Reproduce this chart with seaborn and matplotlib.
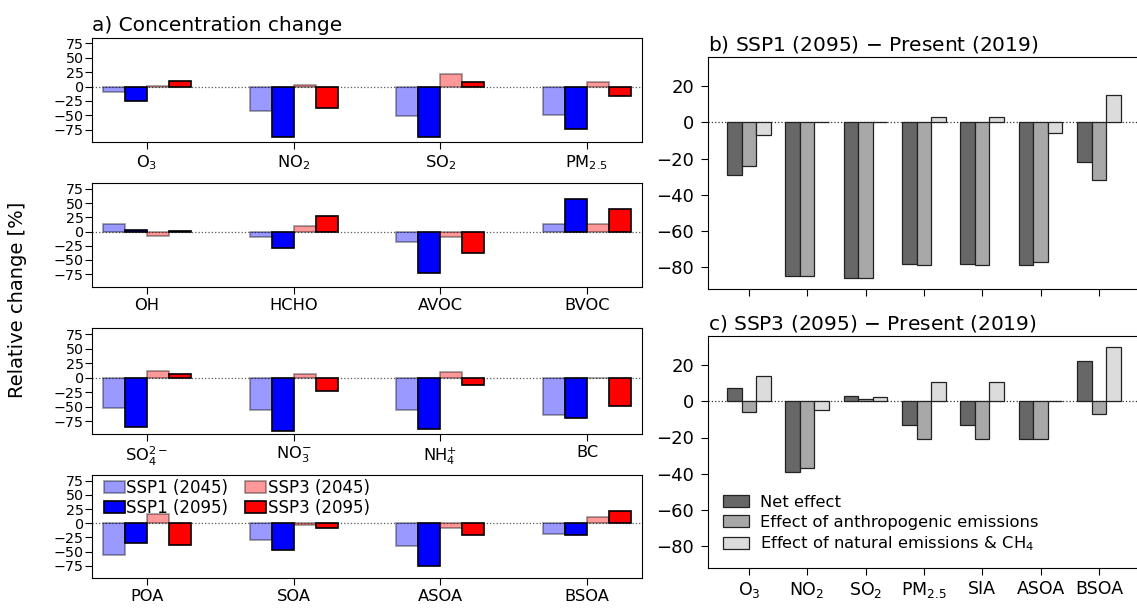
import numpy as np
import pandas as pd
import matplotlib
matplotlib.use("Agg")
import matplotlib.pyplot as plt
from matplotlib.patches import Patch
import seaborn as sns

plt.rcParams['font.family'] = ['DejaVu Sans']
plt.rcParams['mathtext.default'] = 'regular'

# ---------------- panel a: relative concentration change [%] ----------------
scenarios = ['SSP1 (2045)', 'SSP1 (2095)', 'SSP3 (2045)', 'SSP3 (2095)']
species = ['O$_3$', 'NO$_2$', 'SO$_2$', 'PM$_{2.5}$',
           'OH', 'HCHO', 'AVOC', 'BVOC',
           'SO$_4^{2-}$', 'NO$_3^{-}$', 'NH$_4^{+}$', 'BC',
           'POA', 'SOA', 'ASOA', 'BSOA']
ssp1_2045 = [-9, -42, -52, -49,
             13, -10, -19, 13,
             -52, -55, -55, -64.5,
             -56, -29, -40, -19]
ssp1_2095 = [-26, -87, -88, -73,
             2, -28.5, -73, 57.5,
             -85, -92, -89, -70,
             -35.5, -48, -76, -20]
ssp3_2045 = [1, 3, 21, 7.5,
             -7.5, 9, -9, 13,
             12, 7, 9.5, -1,
             16, -3, -9, 11]
ssp3_2095 = [10, -38, 7.5, -17,
             1, 27, -38, 39,
             7, -23.5, -12, -49,
             -38, -7.5, -21.5, 21.5]

# ---------------- panels b, c: attribution of 2095 changes [%] ----------------
effects = ['Net effect', 'Effect of anthropogenic emissions',
           'Effect of natural emissions & CH$_4$']
effect_species = ['O$_3$', 'NO$_2$', 'SO$_2$', 'PM$_{2.5}$', 'SIA', 'ASOA', 'BSOA']
ssp1_net = [-29, -85, -86, -78, -78, -79, -22]
ssp1_anthro = [-24, -85, -86, -79, -79, -77, -32]
ssp1_natural = [-7, 0, 0, 3, 3, -6, 15]
ssp3_net = [7.5, -39, 3, -13, -13, -21, 22]
ssp3_anthro = [-6, -37, 1, -21, -21, -21, -7]
ssp3_natural = [14, -5, 2.5, 10.5, 10.5, 0, 30]

W, H = 1137, 609
fig = plt.figure(figsize=(W / 100, H / 100), dpi=100)


def px_axes(left, top, right, bottom):
    return fig.add_axes([left / W, 1 - bottom / H, (right - left) / W, (bottom - top) / H])


scen_colors = {'SSP1 (2045)': 'blue', 'SSP1 (2095)': 'blue',
               'SSP3 (2045)': 'red', 'SSP3 (2095)': 'red'}
scen_alpha = [0.4, 1.0, 0.4, 1.0]
scen_series = [ssp1_2045, ssp1_2095, ssp3_2045, ssp3_2095]

rows_px = [(37.7, 142.3), (183.3, 286.7), (328.3, 434.0), (475.0, 578.3)]
conc_axes = []
for k, (top, bottom) in enumerate(rows_px):
    ax = px_axes(92, top, 642, bottom)
    sl = slice(4 * k, 4 * k + 4)
    names = species[sl]
    df = pd.DataFrame({
        'species': np.tile(names, len(scenarios)),
        'scenario': np.repeat(scenarios, len(names)),
        'change': np.concatenate([np.asarray(s[sl], float) for s in scen_series]),
    })
    sns.barplot(data=df, x='species', y='change', hue='scenario',
                order=names, hue_order=scenarios, palette=scen_colors,
                width=0.6, errorbar=None, saturation=1, legend=False, ax=ax)
    for cont, a in zip(ax.containers, scen_alpha):
        for bar in cont:
            bar.set_edgecolor('black')
            bar.set_linewidth(1.2)
            bar.set_alpha(a)
    ax.axhline(0, color='0.35', ls=':', lw=0.9, zorder=0.5)
    ax.set_xlim(-0.375, 3.375)
    ax.set_ylim(-97, 85)
    ax.set_yticks([-75, -50, -25, 0, 25, 50, 75])
    ax.set_xlabel('')
    ax.set_ylabel('')
    ax.tick_params(axis='y', labelsize=10.3, length=4.8, pad=1)
    ax.tick_params(axis='x', labelsize=11.7, length=4.8, pad=3)
    conc_axes.append(ax)

conc_axes[0].set_title('a) Concentration change', loc='left', fontsize=14.5, pad=5)
fig.text(18 / W, 1 - 300 / H, 'Relative change [%]', rotation=90,
         ha='center', va='center', fontsize=14)

leg_handles = [Patch(facecolor=scen_colors[s], edgecolor='black', alpha=a, lw=1.2)
               for s, a in zip(scenarios, scen_alpha)]
conc_axes[3].legend(leg_handles, scenarios, loc='upper left', bbox_to_anchor=(0.014, 1.0),
                    ncol=2, frameon=False,
                    fontsize=12, handlelength=1.25, handleheight=0.7,
                    handletextpad=0.1, columnspacing=1.0, labelspacing=0.1,
                    borderaxespad=0.1, borderpad=0.15)

# ---------------- attribution panels ----------------
effect_colors = dict(zip(effects, ['#676767', '#a8a8a8', '#dcdcdc']))
attr_panels = [
    ('b) SSP1 (2095) $-$ Present (2019)', [ssp1_net, ssp1_anthro, ssp1_natural], 57, 289),
    ('c) SSP3 (2095) $-$ Present (2019)', [ssp3_net, ssp3_anthro, ssp3_natural], 336, 568),
]
unit = (1099 - 749) / 6.0
attr_axes = []
for title, series, top, bottom in attr_panels:
    ax = px_axes(708, top, 708 + 7.4 * unit, bottom)
    df = pd.DataFrame({
        'species': np.tile(effect_species, len(effects)),
        'effect': np.repeat(effects, len(effect_species)),
        'change': np.concatenate([np.asarray(s, float) for s in series]),
    })
    sns.barplot(data=df, x='species', y='change', hue='effect',
                order=effect_species, hue_order=effects, palette=effect_colors,
                width=0.75, errorbar=None, saturation=1, legend=False, ax=ax)
    for cont in ax.containers:
        for bar in cont:
            bar.set_edgecolor('#222222')
            bar.set_linewidth(0.9)
    ax.axhline(0, color='0.2', ls=':', lw=0.9, zorder=0.5)
    ax.set_xlim(-0.7, 6.7)
    ax.set_ylim(-92, 36)
    ax.set_yticks([-80, -60, -40, -20, 0, 20])
    ax.set_xlabel('')
    ax.set_ylabel('')
    ax.tick_params(axis='y', labelsize=13, length=5, pad=5)
    ax.tick_params(axis='x', labelsize=12.5, length=5, pad=4)
    ax.set_title(title, loc='left', fontsize=14.5, pad=5)
    attr_axes.append(ax)

attr_axes[0].tick_params(axis='x', labelbottom=False)

eff_handles = [Patch(facecolor=effect_colors[e], edgecolor='#222222', lw=0.9) for e in effects]
attr_axes[1].legend(eff_handles, effects, loc='lower left', frameon=False, fontsize=11.8,
                    handlelength=1.6, handleheight=0.7, handletextpad=0.7,
                    labelspacing=0.3)

fig.savefig('out.png', dpi=100)
